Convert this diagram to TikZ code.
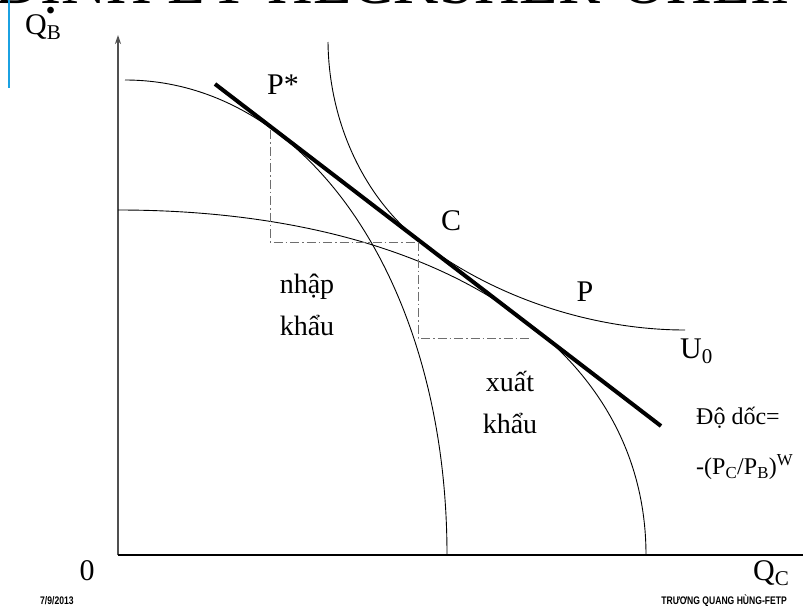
\documentclass[tikz,border=0pt]{standalone}
\usepackage{fontspec}
\setmainfont{Liberation Serif}
\newfontfamily\footfont[FakeStretch=0.78]{Liberation Sans}
\usetikzlibrary{arrows.meta}
\definecolor{axisgray}{HTML}{505050}
\definecolor{guidegray}{HTML}{6E6E6E}
\definecolor{slideblue}{HTML}{1BA1E2}

\begin{document}
\begin{tikzpicture}[
    x=1pt, y=-1pt,
    font=\fontsize{30}{34}\selectfont,
    curve/.style={line width=0.9pt},
    budget/.style={line width=4pt},
    guide/.style={draw=guidegray, line width=1pt, dash pattern=on 9pt off 3pt on 1.5pt off 3pt},
    lbl/.style={inner sep=0pt},
    trade/.style={inner sep=0pt, align=center, font=\fontsize{28}{42}\selectfont},
    small/.style={inner sep=0pt, anchor=west, font=\fontsize{24}{28}\selectfont},
    foot/.style={inner sep=0pt, font=\footfont\bfseries\fontsize{11}{11}\selectfont}
]
\useasboundingbox (0,0) rectangle (803,605);
\clip (0,0) rectangle (803,605);

% slide title, cut by the top edge
\node[lbl, anchor=base, font=\fontsize{63}{63}\selectfont] (title) at (406,4) {ĐỊNH LÝ HECKSHER-OHLIN};
\draw[slideblue, line width=2pt] (9,0) -- (9,88);

% axes
\coordinate (O) at (118,555);
\coordinate (ytop) at (118,35);
\coordinate (xend) at (803,555);
\draw[axisgray, line width=1.6pt, -{Stealth[length=9pt,width=6pt]}] (O) -- (ytop);
\draw[line width=1.6pt] (O) -- (xend);

% production frontiers, indifference curve, price line
\draw[curve] (125,80) .. controls (308,80) and (447,284) .. (447,555);
\draw[curve] (118,210) .. controls (437,210) and (646,346) .. (646,555);
\draw[curve] (328,42) .. controls (329,130) and (370,203) .. (420,241)
    .. controls (500,302) and (600,330) .. (685,330);
\draw[budget] (215,84) -- (661,426);

% trade triangles
\coordinate (Ps) at (270,130);
\coordinate (Cc) at (418,242);
\coordinate (Pp) at (532,338);
\draw[guide] (Ps) -- (Ps |- Cc) -- (Cc);
\draw[guide] (Cc) -- (Cc |- Pp) -- (Pp);

\node[lbl] (pstar) at (283,85) {P*};
\node[lbl] (clbl) at (451,221) {C};
\node[lbl] (plbl) at (585,292) {P};
\node[lbl, anchor=base west] (ulbl) at (680,358) {U\textsubscript{0}};
\node[trade] (imp) at (307,305) {nhập\\khẩu};
\node[trade] (exp) at (510,402) {xuất\\khẩu};
\node[small] (slope) at (696,418) {Độ dốc=};
\node[small] (ratio) at (696,467) {-(P\textsubscript{C}/P\textsubscript{B})\textsuperscript{W}};

\node[lbl, anchor=base west] (qb) at (25,34) {Q\textsubscript{B}};
\node[lbl, anchor=base west] (qc) at (753,580) {Q\textsubscript{C}};
\node[lbl] (zero) at (87,571) {0};

\node[foot, anchor=base west] (date) at (40,604) {7/9/2013};
\node[foot, anchor=base east] (author) at (787,604) {TRƯƠNG QUANG HÙNG-FETP};
\end{tikzpicture}
\end{document}
